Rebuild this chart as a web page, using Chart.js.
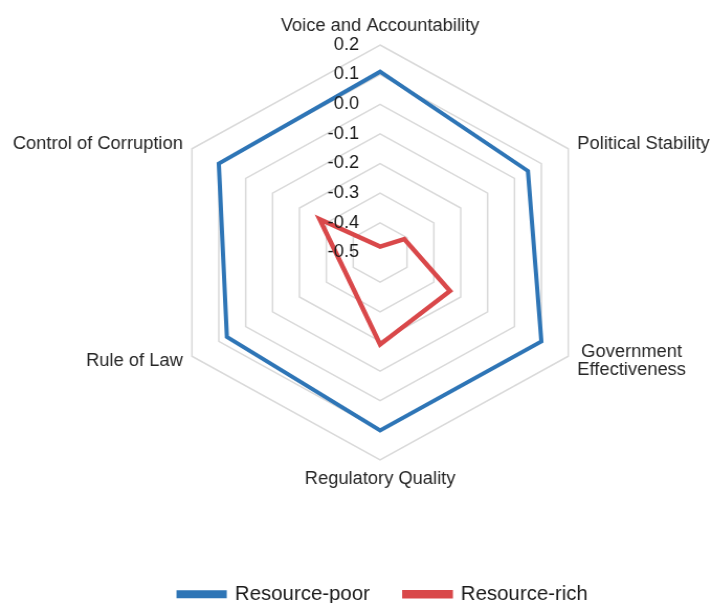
<!DOCTYPE html>
<html><head><meta charset="utf-8">
<script src="https://cdn.jsdelivr.net/npm/chart.js@4.4.0/dist/chart.umd.min.js"></script>
<style>html,body{margin:0;padding:0;background:#fff;overflow:hidden}
#c{display:block;width:712px !important;height:603px !important}</style></head>
<body><canvas id="c" width="680" height="603"></canvas>
<script>
const categories = ['Voice and Accountability', 'Political Stability', ['Government', 'Effectiveness'], 'Regulatory Quality', 'Rule of Law', 'Control of Corruption'];
const seriesNames = ['Resource-poor', 'Resource-rich'];
const resourcePoor = [0.11, 0.05, 0.10, 0.10, 0.07, 0.10];
const resourceRich = [-0.48, -0.41, -0.24, -0.19, -0.37, -0.275];
const tickValues = [-0.5, -0.4, -0.3, -0.2, -0.1, 0.0, 0.1, 0.2];
const tickLabels = ['-0.5', '-0.4', '-0.3', '-0.2', '-0.1', '0.0', '0.1', '0.2'];

const FONT = '"Liberation Sans", Arial, sans-serif';

const labelPlugin = {
  id: 'customLabels',
  afterDatasetsDraw(chart) {
    const s = chart.scales.r;
    const ctx = chart.ctx;
    ctx.save();
    ctx.font = '17.5px ' + FONT;
    ctx.fillStyle = '#1a1a1a';
    ctx.textAlign = 'right';
    ctx.textBaseline = 'middle';
    s.ticks.forEach((t) => {
      const d = s.getDistanceFromCenterForValue(t.value);
      ctx.fillText(t.label, s.xCenter - 20, s.yCenter - d);
    });
    ctx.font = '17.5px ' + FONT;
    ctx.fillStyle = '#262626';
    const lh = 18;
    categories.forEach((lab, i) => {
      const lines = Array.isArray(lab) ? lab : [lab];
      const p = s.getPointPosition(i, s.drawingArea + 10);
      const w = Math.max(...lines.map(l => ctx.measureText(l).width));
      const h = lines.length * lh;
      let left, top;
      if (Math.abs(p.x - s.xCenter) < 1) {
        left = p.x - w / 2;
        top = p.y < s.yCenter ? p.y - h : p.y;
      } else {
        left = p.x > s.xCenter ? p.x : p.x - w;
        top = p.y - h / 2;
      }
      ctx.textAlign = 'center';
      lines.forEach((l, k) => ctx.fillText(l, left + w / 2, top + lh * k + lh / 2));
    });
    ctx.restore();
  }
};

const chart = new Chart(document.getElementById('c'), {
  type: 'radar',
  data: {
    labels: categories,
    datasets: [
      { label: seriesNames[0], data: resourcePoor, borderColor: '#2e75b6', backgroundColor: '#2e75b6', borderWidth: 4, pointRadius: 0, fill: false, borderJoinStyle: 'miter' },
      { label: seriesNames[1], data: resourceRich, borderColor: '#d9484a', backgroundColor: '#d9484a', borderWidth: 4.5, pointRadius: 0, fill: false, borderJoinStyle: 'miter' }
    ]
  },
  options: {
    responsive: false,
    animation: false,
    devicePixelRatio: 1,
    layout: { padding: { left: 52, right: 0, top: 0, bottom: -11 } },
    plugins: {
      tooltip: { enabled: false },
      legend: {
        position: 'bottom',
        labels: { boxWidth: 44, boxHeight: 4, padding: 33, color: '#1a1a1a', font: { size: 19.5, family: FONT } }
      }
    },
    scales: {
      r: {
        min: -0.5, max: 0.2,
        ticks: { stepSize: 0.1, display: false, callback: (v) => tickLabels[tickValues.findIndex(x => Math.abs(x - v) < 1e-6)] },
        pointLabels: { display: false },
        angleLines: { display: false },
        grid: { circular: false, color: '#d9d9d9', lineWidth: 1.5 },
        afterFit: (scale) => { scale.xCenter = 363; scale.yCenter = 252.5; scale.drawingArea = 207.5; }
      }
    }
  },
  plugins: [labelPlugin]
});
chart.canvas.style.width = '712px';
chart.canvas.style.height = '603px';
</script>
</body></html>
